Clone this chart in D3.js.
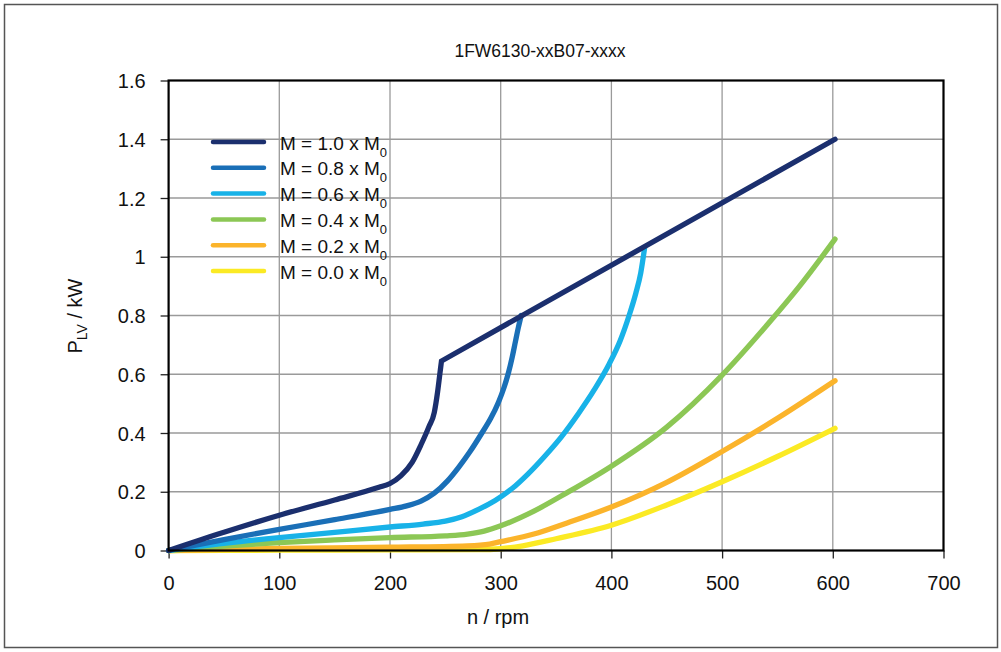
<!DOCTYPE html>
<html><head><meta charset="utf-8">
<script src="https://cdn.jsdelivr.net/npm/d3@7"></script>
<style>
body{margin:0;background:#fff;}
text{font-family:"Liberation Sans",Arial,sans-serif;}
</style></head>
<body><svg id="c" width="1001" height="652"></svg>
<script>
const title = "1FW6130-xxB07-xxxx";
const xTicks = [0,100,200,300,400,500,600,700];
const yTicks = [0,0.2,0.4,0.6,0.8,1,1.2,1.4,1.6];
const seriesNames = ["1.0","0.8","0.6","0.4","0.2","0.0"];
const seriesColors = ["#1b2f6e","#1a6fb7","#18b2e8","#8cc755","#fbb42b","#fbea24"];
const m10 = [[0,0],[50,0.062],[100,0.12],[150,0.172],[190,0.215],[200,0.228],[210,0.255],[220,0.3],[228,0.36],[235,0.42],[240,0.47],[243,0.54],[245,0.6],[246.5,0.645],[602,1.40]];
const m08 = [[0,0],[50,0.037],[100,0.072],[150,0.105],[200,0.14],[215,0.152],[228,0.168],[240,0.195],[252,0.237],[262,0.283],[272,0.335],[283,0.40],[291,0.45],[298,0.505],[303,0.555],[307,0.605],[310.5,0.66],[313.5,0.715],[316,0.76],[318.5,0.80]];
const m06 = [[0,0],[50,0.024],[100,0.044],[150,0.062],[200,0.08],[230,0.09],[250,0.10],[265,0.115],[280,0.14],[295,0.17],[310,0.21],[325,0.262],[340,0.322],[355,0.388],[370,0.465],[385,0.55],[398,0.635],[408,0.715],[416,0.80],[422,0.875],[426.5,0.945],[430,1.03]];
const m04 = [[0,0],[50,0.015],[100,0.027],[150,0.036],[200,0.044],[250,0.05],[270,0.056],[285,0.066],[300,0.084],[330,0.134],[360,0.197],[400,0.287],[450,0.42],[500,0.597],[540,0.765],[570,0.9],[602,1.06]];
const m02 = [[0,0],[100,0.007],[200,0.011],[270,0.016],[290,0.022],[300,0.03],[330,0.056],[360,0.094],[400,0.148],[450,0.232],[500,0.337],[550,0.45],[602,0.578]];
const m00 = [[0,0],[100,0.001],[200,0.002],[280,0.003],[300,0.006],[320,0.016],[350,0.04],[400,0.086],[450,0.155],[500,0.234],[550,0.32],[602,0.416]];
const seriesData = [m10,m08,m06,m04,m02,m00];
const cornerX = 246.5; // knee of the M = 1.0 curve, after which it is straight

const svg = d3.select("#c");
const L=168.6, R=943.5, T=80.5, B=550.5;
const x = d3.scaleLinear().domain([0,700]).range([L,R]);
const y = d3.scaleLinear().domain([0,1.6]).range([B,T]);

svg.append("rect").attr("x",4.5).attr("y",4.5).attr("width",993).attr("height",643)
  .attr("fill","none").attr("stroke","#555").attr("stroke-width",1.5);

svg.append("text").attr("x",540).attr("y",57).attr("text-anchor","middle")
  .attr("font-size",17.5).attr("fill","#111").text(title);

svg.append("g").selectAll("line").data(xTicks.slice(1,-1)).join("line")
  .attr("x1",d=>x(d)).attr("x2",d=>x(d)).attr("y1",T).attr("y2",B)
  .attr("stroke","#9a9a9a").attr("stroke-width",1.3);
svg.append("g").selectAll("line").data(yTicks.slice(1,-1)).join("line")
  .attr("x1",L).attr("x2",R).attr("y1",d=>y(d)).attr("y2",d=>y(d))
  .attr("stroke","#9a9a9a").attr("stroke-width",1.3);

const xAxis = svg.append("g").attr("transform",`translate(0,${B})`)
  .call(d3.axisBottom(x).tickValues(xTicks).tickSize(8).tickFormat(d3.format("d")));
const yAxis = svg.append("g").attr("transform",`translate(${L},0)`)
  .call(d3.axisLeft(y).tickValues(yTicks).tickSize(8).tickFormat(d=>d===0?"0":(d===1?"1":d3.format(".1f")(d))));
[xAxis,yAxis].forEach(g=>{
  g.select(".domain").remove();
  g.selectAll(".tick line").attr("stroke","#222").attr("stroke-width",1.3);
  g.selectAll(".tick text").attr("font-size",20).attr("fill","#111")
    .attr("font-family","'Liberation Sans',Arial,sans-serif");
});
xAxis.selectAll(".tick text").attr("dy","0").attr("y",39);
yAxis.selectAll(".tick text").attr("x",-23).attr("dy","0.36em");

const smooth = d3.line().x(d=>x(d[0])).y(d=>y(d[1])).curve(d3.curveMonotoneX);
const straight = d3.line().x(d=>x(d[0])).y(d=>y(d[1])).curve(d3.curveLinear);
const gLines = svg.append("g");
[5,4,3,2,1].forEach(i=>{
  gLines.append("path").attr("d",smooth(seriesData[i])).attr("fill","none")
    .attr("stroke",seriesColors[i]).attr("stroke-width",5.3)
    .attr("stroke-linejoin","round").attr("stroke-linecap","round");
});
const knee = m10.filter(d=>d[0]<=cornerX), tail = m10.filter(d=>d[0]>=cornerX);
gLines.append("path").attr("d",smooth(knee)+straight(tail).replace(/^M/,"L")).attr("fill","none")
  .attr("stroke",seriesColors[0]).attr("stroke-width",5.3)
  .attr("stroke-linejoin","miter").attr("stroke-linecap","round");

svg.append("rect").attr("x",L).attr("y",T).attr("width",R-L).attr("height",B-T)
  .attr("fill","none").attr("stroke","#000").attr("stroke-width",2.2);

svg.append("text").attr("x",498).attr("y",624).attr("text-anchor","middle")
  .attr("font-size",20).attr("fill","#111").text("n / rpm");
const yl = svg.append("text").attr("transform","translate(82,316) rotate(-90)")
  .attr("text-anchor","middle").attr("font-size",20).attr("fill","#111");
yl.append("tspan").text("P");
yl.append("tspan").attr("font-size",14).attr("dy",5).text("LV");
yl.append("tspan").attr("dy",-5).text(" / kW");

const lg = svg.append("g");
seriesNames.forEach((n,i)=>{
  const yy = 142 + i*25.8;
  lg.append("line").attr("x1",213).attr("x2",264).attr("y1",yy).attr("y2",yy)
    .attr("stroke",seriesColors[i]).attr("stroke-width",4.5).attr("stroke-linecap","round");
  const t = lg.append("text").attr("x",280).attr("y",yy+7.5).attr("font-size",19).attr("fill","#111");
  t.append("tspan").text(`M = ${n} x M`);
  t.append("tspan").attr("font-size",13).attr("dy",7).text("0");
});
</script></body></html>
